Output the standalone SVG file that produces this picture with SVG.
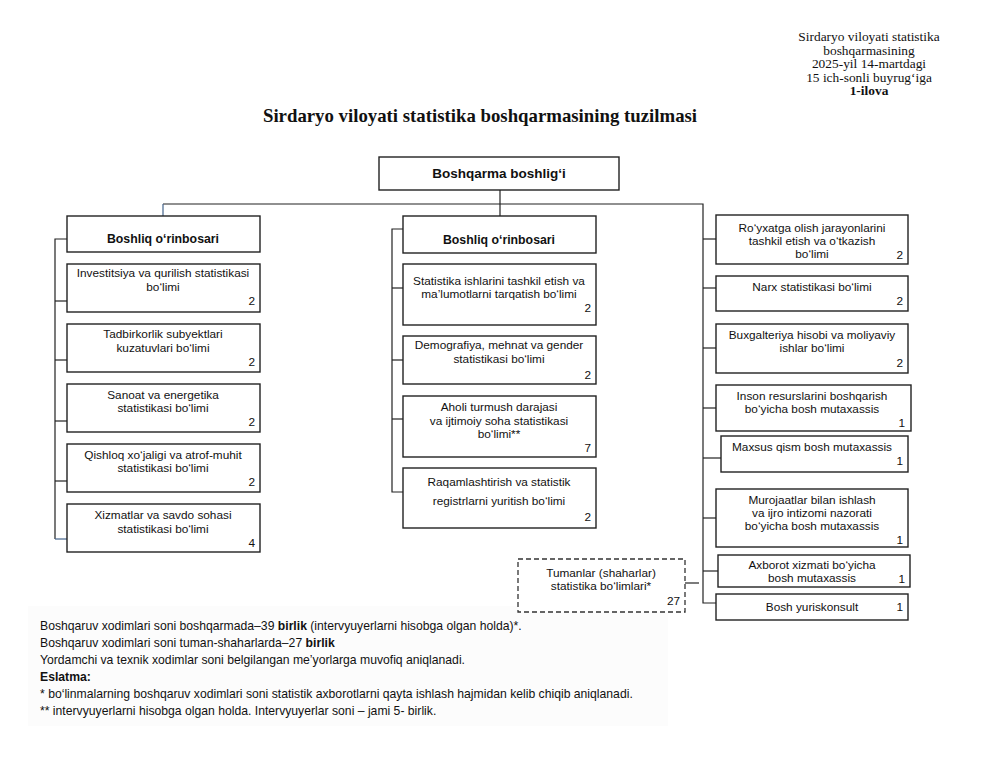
<svg xmlns="http://www.w3.org/2000/svg" width="987" height="757" viewBox="0 0 987 757">
<style>
.bg{fill:#ffffff}
.box{fill:#ffffff;stroke:#222;stroke-width:1.4}
.dash{fill:#ffffff;stroke:#333;stroke-width:1.3;stroke-dasharray:5 3}
.t{font-family:"Liberation Sans",Arial,sans-serif;font-size:11.8px;fill:#111;text-anchor:middle}
.n{text-anchor:end}
.b{font-weight:bold;font-size:12.3px}
.bb{font-weight:bold;font-size:13.5px}
.hdr{font-family:"Liberation Serif","Times New Roman",serif;font-size:13.4px;fill:#111;text-anchor:middle}
.title{font-family:"Liberation Serif","Times New Roman",serif;font-size:18.8px;font-weight:bold;fill:#111;text-anchor:middle}
.note{font-family:"Liberation Sans",Arial,sans-serif;font-size:12.2px;fill:#111}
.conn path,.conn line{stroke:#222;stroke-width:1.2;fill:none}
.blue{stroke:#44648c !important}
</style>
<rect class="bg" x="0" y="0" width="987" height="757"/>
<rect x="28" y="606" width="640" height="120" fill="#fcfcfc"/>

<g id="header">
<text class="hdr" x="869" y="41">Sirdaryo viloyati statistika</text>
<text class="hdr" x="869" y="54.5">boshqarmasining</text>
<text class="hdr" x="869" y="68">2025-yil 14-martdagi</text>
<text class="hdr" x="869" y="81.5">15 ich-sonli buyrug‘iga</text>
<text class="hdr" x="869" y="95" font-weight="bold">1-ilova</text>
</g>
<text class="title" x="480" y="122">Sirdaryo viloyati statistika boshqarmasining tuzilmasi</text>

<g class="conn" id="connectors">
<line x1="500" y1="190" x2="500" y2="204"/>
<path d="M163 204 H703 V603 H716"/>
<line class="blue" x1="163" y1="204" x2="163" y2="216"/>
<line x1="500" y1="204" x2="500" y2="216"/>
<path d="M67 239 H55 V539"/>
<line x1="55" y1="301" x2="67" y2="301"/>
<line x1="55" y1="360" x2="67" y2="360"/>
<line x1="55" y1="421" x2="67" y2="421"/>
<line x1="55" y1="481" x2="67" y2="481"/>
<line class="blue" x1="55" y1="539" x2="67" y2="539"/>
<path d="M403 229 H392 V492 H403"/>
<line x1="392" y1="288" x2="403" y2="288"/>
<line x1="392" y1="360" x2="403" y2="360"/>
<line x1="392" y1="419" x2="403" y2="419"/>
<line x1="703" y1="239" x2="716" y2="239"/>
<line x1="703" y1="288" x2="716" y2="288"/>
<line x1="703" y1="348" x2="716" y2="348"/>
<line x1="703" y1="408" x2="716" y2="408"/>
<line x1="703" y1="458" x2="721" y2="458"/>
<line x1="703" y1="518" x2="716" y2="518"/>
<line x1="703" y1="571" x2="718" y2="571"/>
<line x1="685" y1="583" x2="699" y2="583"/>
</g>

<g id="top">
<rect class="box" x="379" y="157" width="240" height="33"/>
<text class="t bb" x="499" y="178">Boshqarma boshlig‘i</text>
</g>

<g id="L0">
<rect class="box" x="67" y="216" width="193" height="36"/>
<text class="t b" x="163" y="243">Boshliq o‘rinbosari</text>
</g>
<g id="L1">
<rect class="box" x="67" y="264" width="193" height="48"/>
<text class="t" x="163" y="277">Investitsiya va qurilish statistikasi</text>
<text class="t" x="163" y="291">bo‘limi</text>
<text class="t n" x="255" y="305">2</text>
</g>
<g id="L2">
<rect class="box" x="67" y="324" width="193" height="48"/>
<text class="t" x="163" y="338">Tadbirkorlik subyektlari</text>
<text class="t" x="163" y="352">kuzatuvlari bo‘limi</text>
<text class="t n" x="255" y="366">2</text>
</g>
<g id="L3">
<rect class="box" x="67" y="384" width="193" height="48"/>
<text class="t" x="163" y="399">Sanoat va energetika</text>
<text class="t" x="163" y="412">statistikasi bo‘limi</text>
<text class="t n" x="255" y="426">2</text>
</g>
<g id="L4">
<rect class="box" x="67" y="444" width="193" height="48"/>
<text class="t" x="163" y="459">Qishloq xo‘jaligi va atrof-muhit</text>
<text class="t" x="163" y="472">statistikasi bo‘limi</text>
<text class="t n" x="255" y="486">2</text>
</g>
<g id="L5">
<rect class="box" x="67" y="504" width="193" height="48"/>
<text class="t" x="163" y="519">Xizmatlar va savdo sohasi</text>
<text class="t" x="163" y="533">statistikasi bo‘limi</text>
<text class="t n" x="255" y="547">4</text>
</g>

<g id="M0">
<rect class="box" x="403" y="216" width="193" height="37"/>
<text class="t b" x="499" y="244">Boshliq o‘rinbosari</text>
</g>
<g id="M1">
<rect class="box" x="403" y="264" width="193" height="61"/>
<text class="t" x="499" y="285">Statistika ishlarini tashkil etish va</text>
<text class="t" x="499" y="298">ma’lumotlarni tarqatish bo‘limi</text>
<text class="t n" x="591" y="312">2</text>
</g>
<g id="M2">
<rect class="box" x="403" y="336" width="193" height="48"/>
<text class="t" x="499" y="349">Demografiya, mehnat va gender</text>
<text class="t" x="499" y="362.5">statistikasi bo‘limi</text>
<text class="t n" x="591" y="379">2</text>
</g>
<g id="M3">
<rect class="box" x="403" y="396" width="193" height="61"/>
<text class="t" x="499" y="411">Aholi turmush darajasi</text>
<text class="t" x="499" y="424.5">va ijtimoiy soha statistikasi</text>
<text class="t" x="499" y="438">bo‘limi**</text>
<text class="t n" x="591" y="452">7</text>
</g>
<g id="M4">
<rect class="box" x="403" y="468" width="193" height="60"/>
<text class="t" x="499" y="486">Raqamlashtirish va statistik</text>
<text class="t" x="499" y="505">registrlarni yuritish bo‘limi</text>
<text class="t n" x="591" y="521">2</text>
</g>

<g id="tumanlar">
<rect class="dash" x="518" y="559" width="167" height="53"/>
<text class="t" x="601" y="577">Tumanlar (shaharlar)</text>
<text class="t" x="601" y="590">statistika bo‘limlari*</text>
<text class="t n" x="680" y="605">27</text>
</g>

<g id="R1">
<rect class="box" x="716" y="215" width="192" height="49"/>
<text class="t" x="812" y="232">Ro‘yxatga olish jarayonlarini</text>
<text class="t" x="812" y="245">tashkil etish va o‘tkazish</text>
<text class="t" x="812" y="258">bo‘limi</text>
<text class="t n" x="903" y="259">2</text>
</g>
<g id="R2">
<rect class="box" x="716" y="276" width="192" height="35"/>
<text class="t" x="812" y="291">Narx statistikasi bo‘limi</text>
<text class="t n" x="903" y="305">2</text>
</g>
<g id="R3">
<rect class="box" x="716" y="324" width="192" height="49"/>
<text class="t" x="812" y="339">Buxgalteriya hisobi va moliyaviy</text>
<text class="t" x="812" y="352">ishlar bo‘limi</text>
<text class="t n" x="903" y="367">2</text>
</g>
<g id="R4">
<rect class="box" x="716" y="385" width="195" height="46"/>
<text class="t" x="812" y="400">Inson resurslarini boshqarish</text>
<text class="t" x="812" y="413">bo‘yicha bosh mutaxassis</text>
<text class="t n" x="905" y="427">1</text>
</g>
<g id="R5">
<rect class="box" x="721" y="436" width="187" height="36"/>
<text class="t" x="812" y="451">Maxsus qism bosh mutaxassis</text>
<text class="t n" x="903" y="465">1</text>
</g>
<g id="R6">
<rect class="box" x="716" y="489" width="192" height="58"/>
<text class="t" x="812" y="504">Murojaatlar bilan ishlash</text>
<text class="t" x="812" y="517">va ijro intizomi nazorati</text>
<text class="t" x="812" y="530">bo‘yicha bosh mutaxassis</text>
<text class="t n" x="903" y="544">1</text>
</g>
<g id="R7">
<rect class="box" x="718" y="555" width="192" height="32"/>
<text class="t" x="812" y="569">Axborot xizmati bo‘yicha</text>
<text class="t" x="812" y="582">bosh mutaxassis</text>
<text class="t n" x="905" y="583">1</text>
</g>
<g id="R8">
<rect class="box" x="716" y="594" width="192" height="26"/>
<text class="t" x="812" y="611">Bosh yuriskonsult</text>
<text class="t n" x="903" y="611">1</text>
</g>

<g id="notes">
<text class="note" x="40" y="630">Boshqaruv xodimlari soni boshqarmada–39 <tspan font-weight="bold">birlik</tspan> (intervyuyerlarni hisobga olgan holda)*.</text>
<text class="note" x="40" y="647">Boshqaruv xodimlari soni tuman-shaharlarda–27 <tspan font-weight="bold">birlik</tspan></text>
<text class="note" x="40" y="664">Yordamchi va texnik xodimlar soni belgilangan me’yorlarga muvofiq aniqlanadi.</text>
<text class="note" x="40" y="681" font-weight="bold">Eslatma:</text>
<text class="note" x="40" y="698">* bo‘linmalarning boshqaruv xodimlari soni statistik axborotlarni qayta ishlash hajmidan kelib chiqib aniqlanadi.</text>
<text class="note" x="40" y="715">** intervyuyerlarni hisobga olgan holda. Intervyuyerlar soni – jami 5- birlik.</text>
</g>
</svg>
